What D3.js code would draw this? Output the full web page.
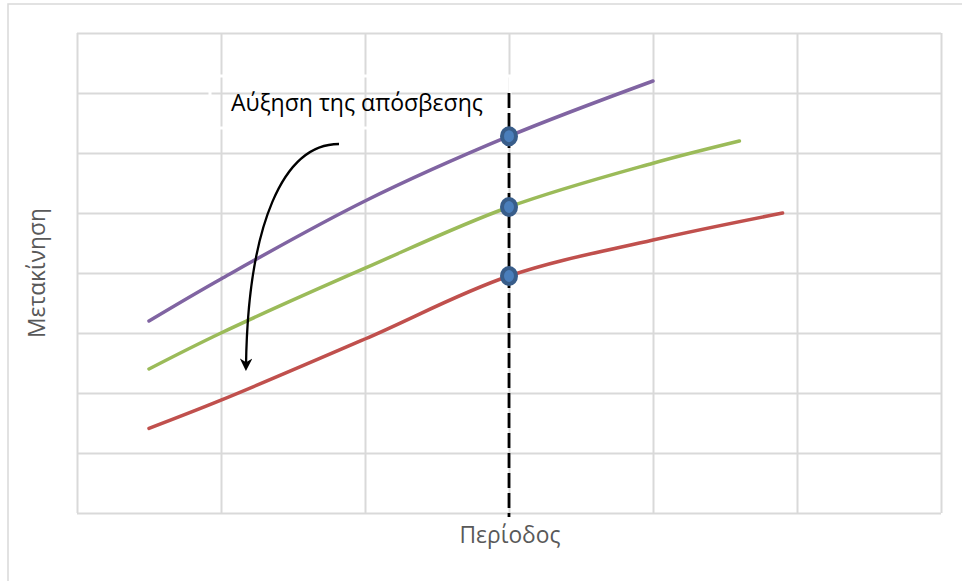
<!DOCTYPE html>
<html>
<head>
<meta charset="utf-8">
<script src="https://cdn.jsdelivr.net/npm/d3@7"></script>
<style>
  html, body { margin: 0; padding: 0; background: #fff; }
  svg { display: block; }
</style>
</head>
<body>
<svg id="chart" width="962" height="581"></svg>
<script>
// Grid divisions (no tick labels are shown on either axis)
const xGrid = [0, 1, 2, 3, 4, 5, 6];
const yGrid = [0, 1, 2, 3, 4, 5, 6, 7, 8];

// Three depreciation levels: period vs. displacement
const periodHigh = [0.5, 1, 2, 3, 4];
const shiftHigh  = [3.2, 3.9, 5.2, 6.28, 7.2];

const periodMid  = [0.5, 1, 2, 3, 4, 4.6];
const shiftMid   = [2.4, 3.0, 4.08, 5.1, 5.83, 6.2];

const periodLow  = [0.5, 1, 2, 3, 4, 4.9];
const shiftLow   = [1.41, 1.88, 2.9, 3.95, 4.55, 5.0];

const seriesColors = ["#8064A2", "#9BBB59", "#C0504D"];

// Highlighted period and the value of each curve there
const markedPeriod = 3;
const markedShift = [6.28, 5.1, 3.95];

const xTitle = "Περίοδος";
const yTitle = "Μετακίνηση";
const noteText = "Αύξηση της απόσβεσης";

const svg = d3.select("#chart");
const W = 962, H = 581;
const plot = { left: 77, right: 941, top: 33, bottom: 513 };
const fontStack = "'Open Sans', 'Noto Sans', sans-serif";

const x = d3.scaleLinear().domain([0, 6]).range([plot.left, plot.right]);
const y = d3.scaleLinear().domain([0, 8]).range([plot.bottom, plot.top]);

// Scale a text element's font so that it spans the given width
function fitText(sel, size, width) {
  const len = sel.node().getComputedTextLength();
  sel.attr("font-size", size * width / len);
}

// Outer chart frame
svg.append("rect")
  .attr("x", 8).attr("y", 4)
  .attr("width", W + 20).attr("height", H + 20)
  .attr("fill", "#fff")
  .attr("stroke", "#D9D9D9").attr("stroke-width", 1.5);

// Gridlines via axes with full-length ticks
const gridColor = "#D9D9D9";
const gx = svg.append("g")
  .attr("transform", `translate(0,${plot.bottom})`)
  .call(d3.axisBottom(x).tickValues(xGrid).tickSize(-(plot.bottom - plot.top)).tickFormat(""));
const gy = svg.append("g")
  .attr("transform", `translate(${plot.left},0)`)
  .call(d3.axisLeft(y).tickValues(yGrid).tickSize(-(plot.right - plot.left)).tickFormat(""));
[gx, gy].forEach(g => {
  g.select(".domain").remove();
  g.selectAll(".tick line").attr("stroke", gridColor).attr("stroke-width", 2);
});

// Curves
const line = d3.line()
  .x(d => x(d[0]))
  .y(d => y(d[1]))
  .curve(d3.curveCatmullRom.alpha(0.5));

const series = [
  d3.zip(periodHigh, shiftHigh),
  d3.zip(periodMid, shiftMid),
  d3.zip(periodLow, shiftLow)
];

svg.append("g").selectAll("path")
  .data(series)
  .join("path")
  .attr("d", line)
  .attr("fill", "none")
  .attr("stroke", (d, i) => seriesColors[i])
  .attr("stroke-width", 3.5)
  .attr("stroke-linecap", "round");

// Note label with its white outline box
const noteBox = svg.append("g");
noteBox.append("rect")
  .attr("x", 210).attr("y", 76)
  .attr("width", 300).attr("height", 52)
  .attr("fill", "none")
  .attr("stroke", "#fff").attr("stroke-width", 3);
const note = noteBox.append("text")
  .attr("x", 231).attr("y", 111)
  .attr("font-family", fontStack)
  .attr("font-size", 21)
  .attr("fill", "#000")
  .text(noteText);
fitText(note, 21, 252);

// Dashed reference line at the highlighted period
svg.append("line")
  .attr("x1", x(markedPeriod)).attr("x2", x(markedPeriod))
  .attr("y1", y(7)).attr("y2", plot.bottom + 4)
  .attr("stroke", "#000").attr("stroke-width", 2.8)
  .attr("stroke-dasharray", "15,5");

// Markers where each curve meets the reference line
svg.append("g").selectAll("ellipse")
  .data(markedShift)
  .join("ellipse")
  .attr("cx", x(markedPeriod))
  .attr("cy", d => y(d))
  .attr("rx", 7).attr("ry", 8)
  .attr("fill", "#4A7EBB")
  .attr("stroke", "#385D8A").attr("stroke-width", 4);

// Curved arrow showing the direction of increasing depreciation
const defs = svg.append("defs");
defs.append("marker")
  .attr("id", "arrowhead")
  .attr("viewBox", "0 0 10 10")
  .attr("refX", 6).attr("refY", 5)
  .attr("markerWidth", 5.5).attr("markerHeight", 5.5)
  .attr("markerUnits", "strokeWidth")
  .attr("orient", "auto")
  .append("path")
  .attr("d", "M0,0 L10,5 L0,10 L3,5 Z")
  .attr("fill", "#000");

const arrowPath = d3.path();
arrowPath.moveTo(339, 144);
arrowPath.bezierCurveTo(283, 144, 248, 225, 246, 366);
svg.append("path")
  .attr("d", arrowPath.toString())
  .attr("fill", "none")
  .attr("stroke", "#000").attr("stroke-width", 2.3)
  .attr("marker-end", "url(#arrowhead)");

// Axis titles
const xt = svg.append("text")
  .attr("x", 510)
  .attr("y", 543)
  .attr("text-anchor", "middle")
  .attr("font-family", fontStack)
  .attr("font-size", 22)
  .attr("fill", "#595959")
  .text(xTitle);
fitText(xt, 22, 101);

const yt = svg.append("text")
  .attr("transform", `translate(45,${(plot.top + plot.bottom) / 2}) rotate(-90)`)
  .attr("text-anchor", "middle")
  .attr("font-family", fontStack)
  .attr("font-size", 22)
  .attr("fill", "#595959")
  .text(yTitle);
fitText(yt, 22, 130);
</script>
</body>
</html>
